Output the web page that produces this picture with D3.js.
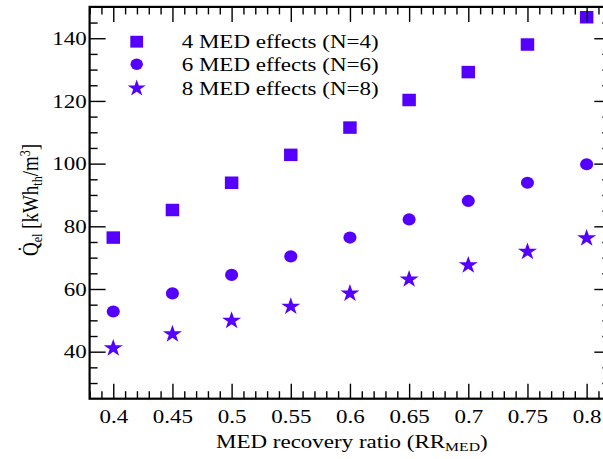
<!DOCTYPE html>
<html>
<head>
<meta charset="utf-8">
<script src="https://cdn.jsdelivr.net/npm/d3@7"></script>
<style>
  html, body { margin: 0; padding: 0; background: #fff; }
  svg { display: block; }
  text { font-family: "Liberation Serif", "Times New Roman", serif; fill: #000; }
</style>
</head>
<body>
<svg id="chart" width="603" height="459"></svg>
<script>
// MED recovery ratio (x) and specific electrical consumption per series
const recoveryRatio = [0.4, 0.45, 0.5, 0.55, 0.6, 0.65, 0.7, 0.75, 0.8];
const effects4 = [76.4, 85.2, 93.9, 102.8, 111.5, 120.3, 129.2, 138.0, 146.7];
const effects6 = [52.8, 58.6, 64.5, 70.4, 76.4, 82.2, 88.1, 93.9, 99.8];
const effects8 = [41.1, 45.6, 49.9, 54.4, 58.6, 63.1, 67.6, 71.9, 76.2];
const seriesNames = ["4 MED effects (N=4)", "6 MED effects (N=6)", "8 MED effects (N=8)"];
const xTickLabels = ["0.4", "0.45", "0.5", "0.55", "0.6", "0.65", "0.7", "0.75", "0.8"];
const yTickLabels = ["40", "60", "80", "100", "120", "140"];

const color = "#5500ff";
const stretch = 1.21; // wide text as in the source figure

const svg = d3.select("#chart");
const plotLeft = 89.6, plotRight = 610.3, plotTop = 6.9, plotBottom = 398.7;

const x = d3.scaleLinear().domain([0.38, 0.82]).range([plotLeft, plotRight]);
const y = d3.scaleLinear().domain([25, 150]).range([plotBottom, plotTop]);

const xMajor = xTickLabels.map(Number);
const yMajor = yTickLabels.map(Number);
const xMinor = d3.range(38, 83, 1).map(d => d / 100).filter(d => !xMajor.some(m => Math.abs(m - d) < 1e-9));
const yMinor = d3.range(30, 150, 5).filter(d => !yMajor.includes(d));

// data markers
const symbols = [d3.symbolSquare, d3.symbolCircle, d3.symbolStar];
const sizes = [156, 115, 97];
const seriesValues = [effects4, effects6, effects8];

const marks = svg.append("g");
seriesValues.forEach((vals, si) => {
  const gen = d3.symbol().type(symbols[si]).size(sizes[si]);
  marks.selectAll(null)
    .data(vals.map((v, i) => [recoveryRatio[i], v]))
    .join("path")
    .attr("d", gen)
    .attr("fill", color)
    .attr("transform", d => `translate(${x(d[0])},${y(d[1])}) scale(1.08,1)`);
});

// axes: ticks point inward on all four sides
function styleAxis(g) {
  g.select(".domain").remove();
  g.selectAll(".tick line").attr("stroke", "#000").attr("stroke-width", 1.4);
}

svg.append("g").attr("transform", `translate(0,${plotBottom})`)
  .call(d3.axisBottom(x).tickValues(xMinor).tickSize(-7.5).tickFormat(""))
  .call(styleAxis);
const gx = svg.append("g").attr("transform", `translate(0,${plotBottom})`)
  .call(d3.axisBottom(x).tickValues(xMajor).tickSize(-15).tickPadding(11)
    .tickFormat((d, i) => xTickLabels[i]))
  .call(styleAxis);
gx.selectAll("text").attr("font-size", 19).attr("font-family", "Liberation Serif")
  .attr("transform", `scale(${stretch},1)`);

svg.append("g").attr("transform", `translate(0,${plotTop})`)
  .call(d3.axisTop(x).tickValues(xMinor).tickSize(-7.5).tickFormat(""))
  .call(styleAxis);
svg.append("g").attr("transform", `translate(0,${plotTop})`)
  .call(d3.axisTop(x).tickValues(xMajor).tickSize(-15).tickFormat(""))
  .call(styleAxis);

svg.append("g").attr("transform", `translate(${plotLeft},0)`)
  .call(d3.axisLeft(y).tickValues(yMinor).tickSize(-8).tickFormat(""))
  .call(styleAxis);
const gy = svg.append("g").attr("transform", `translate(${plotLeft},0)`)
  .call(d3.axisLeft(y).tickValues(yMajor).tickSize(-16).tickPadding(2.3)
    .tickFormat((d, i) => yTickLabels[i]))
  .call(styleAxis);
gy.selectAll("text").attr("font-size", 19).attr("font-family", "Liberation Serif")
  .attr("transform", `scale(${stretch},1)`);

svg.append("g").attr("transform", `translate(${plotRight},0)`)
  .call(d3.axisRight(y).tickValues(yMinor).tickSize(-8).tickFormat(""))
  .call(styleAxis);
svg.append("g").attr("transform", `translate(${plotRight},0)`)
  .call(d3.axisRight(y).tickValues(yMajor).tickSize(-16).tickFormat(""))
  .call(styleAxis);

// frame
svg.append("rect")
  .attr("x", plotLeft).attr("y", plotTop)
  .attr("width", plotRight - plotLeft).attr("height", plotBottom - plotTop)
  .attr("fill", "none").attr("stroke", "#000").attr("stroke-width", 2.2);

// legend
const legendX = 136.7, textX = 181.7;
const legendY = [41.7, 64.3, 88.3];
seriesNames.forEach((name, i) => {
  svg.append("path")
    .attr("d", d3.symbol().type(symbols[i]).size(sizes[i] * 0.9)())
    .attr("fill", color)
    .attr("transform", `translate(${legendX},${legendY[i]}) scale(1.08,1)`);
  svg.append("text")
    .attr("transform", `translate(${textX},${legendY[i] + 6.4}) scale(${stretch},1)`)
    .attr("font-size", 19)
    .text(name);
});

// x axis title
const xt = svg.append("text")
  .attr("transform", `translate(216,448) scale(${stretch},1)`)
  .attr("font-size", 19);
xt.append("tspan").text("MED recovery ratio (RR");
xt.append("tspan").attr("font-size", 13).attr("dy", 3).text("MED");
xt.append("tspan").attr("dy", -3).text(")");

// y axis title
const yt = svg.append("text")
  .attr("transform", `translate(38,200) scale(${stretch},1) rotate(-90)`)
  .attr("text-anchor", "middle")
  .attr("font-size", 19);
yt.append("tspan").text("Q\u0307");
yt.append("tspan").attr("font-size", 12).attr("dy", 3).text("el");
yt.append("tspan").attr("dy", -3).text(" [kWh");
yt.append("tspan").attr("font-size", 12).attr("dy", 3).text("th");
yt.append("tspan").attr("dy", -3).text("/m");
yt.append("tspan").attr("font-size", 12).attr("dy", -7).text("3");
yt.append("tspan").attr("dy", 7).text("]");
</script>
</body>
</html>
